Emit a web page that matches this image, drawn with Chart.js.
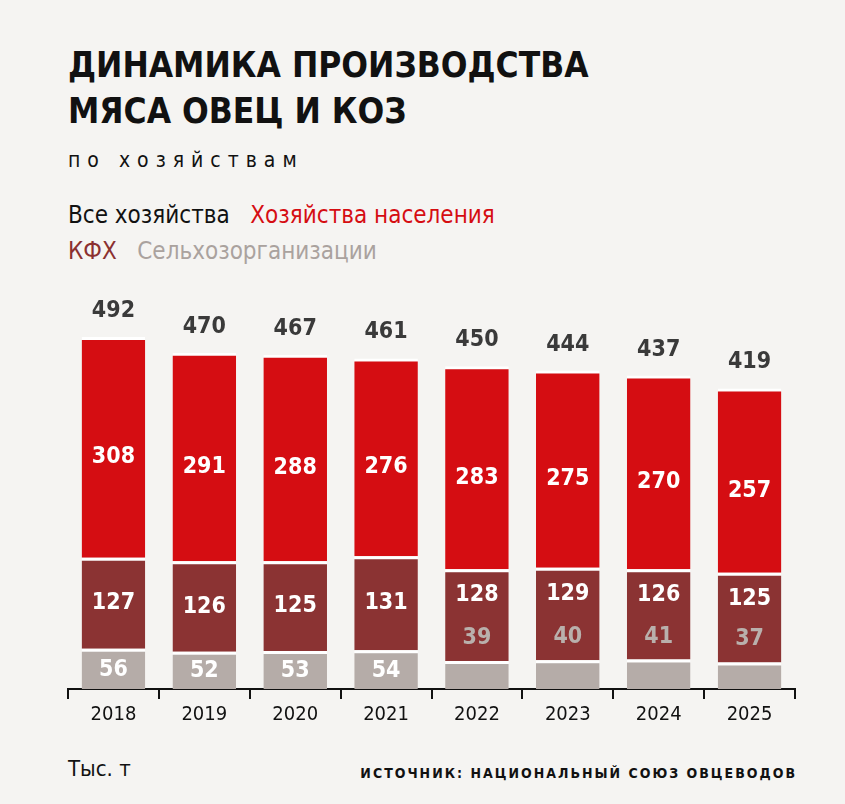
<!DOCTYPE html>
<html><head><meta charset="utf-8">
<script src="https://cdn.jsdelivr.net/npm/chart.js@4"></script>
<style>
body{margin:0;background:#f5f4f2;font-family:"DejaVu Sans Condensed","Liberation Sans Narrow",sans-serif;font-stretch:condensed;}
#wrap{position:relative;width:845px;height:804px;}
.t{position:absolute;left:68px;}
#title{top:42px;font-size:35px;font-weight:bold;line-height:46px;color:#111;letter-spacing:0}
#sub{top:148px;font-size:21px;letter-spacing:7px;color:#111}
#leg1{top:201px;font-size:24px;color:#111}
#leg2{top:237px;font-size:24px}
#unit{top:756px;font-size:22px;color:#111}
#src{position:absolute;right:48px;top:765px;font-size:14px;font-weight:bold;letter-spacing:2px;color:#111}
#box{position:absolute;left:58px;top:291px;width:747px;height:440px}
</style></head><body>
<div id="wrap">
<div class="t" id="title">ДИНАМИКА ПРОИЗВОДСТВА<br>МЯСА ОВЕЦ И КОЗ</div>
<div class="t" id="sub">по хозяйствам</div>
<div class="t" id="leg1">Все хозяйства &nbsp; <span style="color:#d50d12">Хозяйства населения</span></div>
<div class="t" id="leg2"><span style="color:#8b3030">КФХ</span> &nbsp; <span style="color:#aaa29e">Сельхозорганизации</span></div>
<div class="t" id="unit">Тыс. т</div>
<div id="src">ИСТОЧНИК: НАЦИОНАЛЬНЫЙ СОЮЗ ОВЦЕВОДОВ</div>
<div id="box"><canvas id="c"></canvas></div>
</div>
<script>
const years = ["2018","2019","2020","2021","2022","2023","2024","2025"];
const totals = [492,470,467,461,450,444,437,419];
const households = [308,291,288,276,283,275,270,257];
const farms = [127,126,125,131,128,129,126,125];
const agroOrgs = [56,52,53,54,39,40,41,37];
const FONT = '"DejaVu Sans Condensed","Liberation Sans Narrow",sans-serif';

const labels = {
  id:'labels',
  afterDatasetsDraw(chart){
    const ctx = chart.ctx;
    ctx.save();
    ctx.textAlign='center'; ctx.textBaseline='middle';
    ctx.font='bold 23px '+FONT;
    const m0=chart.getDatasetMeta(0).data, m1=chart.getDatasetMeta(1).data, m2=chart.getDatasetMeta(2).data;
    years.forEach((y,i)=>{
      const g=m0[i], f=m1[i], h=m2[i];
      if(agroOrgs[i]>=50){ctx.fillStyle='#fff';ctx.fillText(agroOrgs[i],g.x,(g.y+g.base)/2+1);}
      else{ctx.fillStyle='#b9b0ac';ctx.fillText(agroOrgs[i],g.x,g.y-23);}
      ctx.fillStyle='#fff';
      const fy = agroOrgs[i]>=50 ? (f.y+f.base)/2 : f.y+26;
      ctx.fillText(farms[i],f.x,fy);
      ctx.fillText(households[i],h.x,(h.y+h.base)/2+10);
      ctx.fillStyle='#3a3a3a';
      ctx.fillText(totals[i],h.x,h.y-26);
    });
    ctx.restore();
  }
};

const ds=(label,data,color)=>({label,data,backgroundColor:color,borderColor:'#ffffff',
  borderWidth:{top:3,bottom:0,left:0,right:0},borderSkipped:false,barPercentage:0.7,categoryPercentage:1});

new Chart(document.getElementById('c'),{
  type:'bar',
  data:{labels:years,datasets:[
    ds('Сельхозорганизации',agroOrgs,'#b5aca8'),
    ds('КФХ',farms,'#8b3333'),
    ds('Хозяйства населения',households,'#d50d12')]},
  options:{responsive:true,maintainAspectRatio:false,animation:false,
    layout:{padding:{top:0,left:10,right:10}},
    plugins:{legend:{display:false},tooltip:{enabled:false}},
    scales:{
      x:{stacked:true,border:{color:'#111',width:2},
        grid:{offset:true,drawOnChartArea:false,color:'#111',tickLength:10,lineWidth:2},
        ticks:{color:'#111',font:{size:20,family:FONT},padding:4}},
      y:{stacked:true,display:false,min:0,max:555}
    }},
  plugins:[labels]
});
</script>
</body></html>
